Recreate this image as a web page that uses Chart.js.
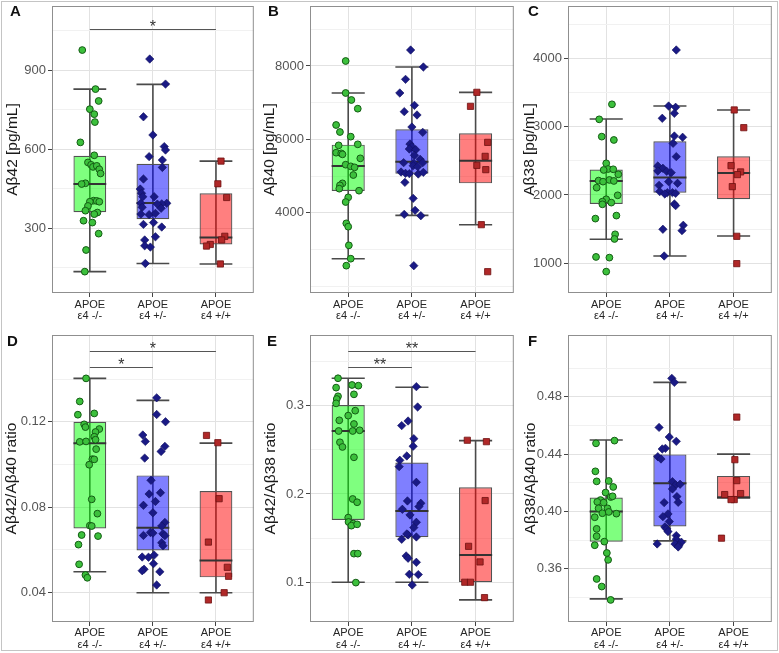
<!DOCTYPE html>
<html><head><meta charset="utf-8">
<script src="https://cdn.jsdelivr.net/npm/chart.js@4.4.1/dist/chart.umd.min.js"></script>
<style>
body{margin:0;background:#fff;}
#wrap{position:relative;width:779px;height:653px;overflow:hidden;background:#fff;}
canvas{position:absolute;}
.lt{position:absolute;font:bold 15px 'Liberation Sans',Arial,sans-serif;line-height:15px;color:#111;}
#frame{position:absolute;left:1px;top:1px;width:777px;height:650px;box-sizing:border-box;border:1px solid #c4c4c4;pointer-events:none;}
</style></head>
<body><div id="wrap">
<canvas id="cA"></canvas><canvas id="cB"></canvas><canvas id="cC"></canvas>
<canvas id="cD"></canvas><canvas id="cE"></canvas><canvas id="cF"></canvas>
<div class="lt" style="left:10px;top:3px">A</div>
<div class="lt" style="left:268px;top:3px">B</div>
<div class="lt" style="left:528px;top:3px">C</div>
<div class="lt" style="left:7px;top:333px">D</div>
<div class="lt" style="left:267px;top:333px">E</div>
<div class="lt" style="left:528px;top:333px">F</div>
<div id="frame"></div>
</div>
<script>
// ---------- categories ----------
const catPrefix = 'APOE';
const categories = ['ε4 -/-', 'ε4 +/-', 'ε4 +/+'];

// ---------- Panel A: Aβ42 [pg/mL] ----------
const A_neg_val = [976,828,783,752,733,703,626,577,550,541,533,537,524,508,471,468,405,404,401,401,385,367,360,354,329,322,280,218,136];
const A_neg_jit = [-0.12,0.09,0.14,0.00,0.07,0.08,-0.15,0.07,-0.03,0.02,0.05,0.11,0.15,0.17,-0.07,-0.13,0.06,0.11,0.15,0.00,-0.03,-0.07,0.12,0.07,-0.10,0.04,0.14,-0.06,-0.08];
const A_het_val = [942,847,723,654,610,597,572,559,531,487,449,433,420,420,395,393,392,395,376,380,354,352,357,322,315,305,268,256,234,229,167];
const A_het_jit = [-0.05,0.20,-0.15,0.00,0.18,0.20,-0.06,0.15,0.15,-0.15,-0.20,-0.18,-0.16,0.02,0.22,0.14,0.07,-0.19,0.13,-0.17,-0.19,-0.06,0.04,0.01,-0.15,0.14,0.04,-0.13,-0.13,-0.04,-0.12];
const A_hom_val = [555,469,417,270,256,239,233,165];
const A_hom_jit = [0.08,0.03,0.17,0.14,0.09,-0.09,-0.15,0.07];
const A_q1 = [361,335,239], A_med = [468,396,265], A_q3 = [575,545,433], A_lo = [136,167,165], A_hi = [828,846,555];
const A_yTicks = [150,300,450,600,750,900,1050];
const A_yLabels = ['','300','','600','','900',''];
const A_sigFrom = [1], A_sigTo = [3], A_sigY = [1055], A_sigText = ['*'];

// ---------- Panel B: Aβ40 [pg/mL] ----------
const B_neg_val = [8136,7264,7073,6836,6391,6200,6073,5836,5864,5636,5618,5591,5482,5309,5264,5236,5027,4800,4745,4655,4600,4418,4291,3709,3618,3109,2745,2555];
const B_neg_jit = [-0.04,-0.04,0.05,0.15,-0.19,-0.13,0.04,-0.15,0.15,-0.19,-0.11,-0.09,0.19,-0.04,0.04,0.10,0.08,-0.09,-0.13,-0.14,0.17,0.00,-0.04,-0.03,0.00,0.01,0.04,-0.03];
const B_het_val = [8436,7973,7636,7264,6927,6755,6664,6336,6191,5873,5800,5736,5718,5564,5455,5364,5345,5364,5282,5255,5109,5073,5064,5055,5100,4827,4391,4064,3955,3918,2555];
const B_het_jit = [-0.02,0.18,-0.10,-0.19,0.04,-0.12,0.08,0.00,0.17,-0.03,0.00,-0.04,0.06,0.04,0.13,-0.13,0.03,0.17,0.02,0.09,-0.17,-0.10,-0.04,0.10,0.18,-0.11,0.02,0.05,-0.12,0.14,0.03];
const B_hom_val = [7282,6900,5918,5536,5291,5173,3673,2391];
const B_hom_jit = [0.02,-0.08,0.19,0.15,0.02,0.16,0.09,0.19];
const B_q1 = [4591,5064,4800], B_med = [5273,5391,5418], B_q3 = [5855,6273,6164], B_lo = [2745,3927,3673], B_hi = [7264,7973,7282];
const B_yTicks = [2000,3000,4000,5000,6000,7000,8000,9000];
const B_yLabels = ['','','4000','','6000','','8000',''];

// ---------- Panel C: Aβ38 [pg/mL] ----------
const C_neg_val = [3327,3107,2854,2805,2463,2380,2366,2376,2302,2210,2220,2205,2195,2107,1995,1937,1902,1888,1863,1698,1654,1424,1356,1093,1083,878];
const C_neg_jit = [0.09,-0.11,-0.07,0.12,0.00,0.03,-0.04,0.11,0.19,-0.12,0.05,0.12,-0.05,-0.15,0.18,0.00,-0.06,0.08,-0.06,0.16,-0.17,0.14,0.13,-0.16,0.05,0.00];
const C_het_val = [4122,3302,3283,3195,3122,2863,2844,2756,2424,2561,2390,2351,2346,2327,2171,2141,2195,2049,2034,2034,2024,2015,1868,1844,1556,1478,1498,1107];
const C_het_jit = [0.10,-0.02,0.09,0.07,-0.12,0.07,0.20,0.05,-0.19,0.10,-0.11,-0.19,-0.05,0.02,0.12,-0.17,-0.02,-0.16,-0.04,0.04,0.09,-0.08,0.07,0.09,0.21,0.19,-0.11,-0.09];
const C_hom_val = [3244,2985,2429,2337,2298,2122,1395,995];
const C_hom_jit = [0.01,0.16,-0.04,0.11,0.06,-0.02,0.05,0.05];
const C_q1 = [1868,2034,1937], C_med = [2205,2254,2322], C_q3 = [2371,2785,2566], C_lo = [1351,1107,1400], C_hi = [3112,3302,3244];
const C_yTicks = [1000,1500,2000,2500,3000,3500,4000,4500];
const C_yLabels = ['1000','','2000','','3000','','4000',''];

// ---------- Panel D: Aβ42/Aβ40 ratio ----------
const D_neg_val = [0.1403,0.1295,0.1239,0.1233,0.1188,0.1175,0.1166,0.1152,0.1130,0.1106,0.1108,0.1116,0.1072,0.1025,0.1024,0.0999,0.0837,0.0770,0.0714,0.0712,0.0670,0.0665,0.0625,0.0533,0.0483,0.0470];
const D_neg_jit = [-0.06,-0.16,0.07,-0.19,-0.09,-0.07,0.15,0.09,0.07,-0.16,-0.06,0.09,0.10,0.04,0.07,-0.01,0.03,0.12,0.00,0.03,-0.13,0.13,-0.18,-0.17,-0.07,-0.04];
const D_het_val = [0.1312,0.1234,0.1200,0.1138,0.1108,0.1085,0.1061,0.1030,0.0926,0.0868,0.0862,0.0827,0.0809,0.0774,0.0729,0.0712,0.0682,0.0679,0.0668,0.0676,0.0667,0.0634,0.0620,0.0567,0.0566,0.0576,0.0536,0.0510,0.0503,0.0498,0.0436];
const D_het_jit = [0.06,0.06,0.20,-0.16,-0.12,0.19,0.13,-0.13,-0.03,0.12,-0.06,0.04,-0.15,0.00,0.19,0.14,-0.04,0.00,-0.15,0.16,0.19,0.14,0.16,-0.17,-0.07,0.02,0.01,-0.14,-0.17,0.11,0.06];
const D_hom_val = [0.1136,0.1102,0.0840,0.0637,0.0519,0.0477,0.0400,0.0366];
const D_hom_jit = [-0.15,0.03,0.05,-0.12,0.18,0.20,0.13,-0.12];
const D_q1 = [0.0701,0.0598,0.0472], D_med = [0.1099,0.0704,0.0551], D_q3 = [0.1200,0.0949,0.0876], D_lo = [0.0498,0.0400,0.0400], D_hi = [0.1403,0.1300,0.1100];
const D_yTicks = [0.04,0.06,0.08,0.10,0.12,0.14];
const D_yLabels = ['0.04','','0.08','','0.12',''];
const D_sigFrom = [1,1], D_sigTo = [2,3], D_sigY = [0.1457,0.1532], D_sigText = ['*','*'];

// ---------- Panel E: Aβ42/Aβ38 ratio ----------
const E_neg_val = [0.331,0.3204,0.3234,0.3226,0.3106,0.3128,0.3075,0.3026,0.2887,0.2943,0.2834,0.2792,0.2713,0.2713,0.2721,0.2585,0.2532,0.2415,0.1943,0.1906,0.1732,0.1683,0.1664,0.1641,0.1656,0.1324,0.1324,0.0996];
const E_neg_jit = [-0.16,-0.19,0.06,0.16,-0.16,0.09,-0.18,-0.19,0.00,0.11,-0.14,0.09,-0.15,0.07,0.18,-0.13,-0.09,0.09,0.07,0.14,0.00,0.005,0.08,0.05,0.14,0.09,0.15,0.12];
const E_het_val = [0.3215,0.2985,0.2774,0.2826,0.2626,0.254,0.243,0.2381,0.2309,0.2132,0.1921,0.1826,0.1894,0.1857,0.1762,0.1679,0.1619,0.1536,0.1547,0.1513,0.1487,0.1298,0.1272,0.1226,0.109,0.1087,0.0969];
const E_het_jit = [0.07,0.09,-0.16,-0.06,0.03,0.02,-0.08,-0.19,-0.20,0.07,-0.07,-0.15,0.14,0.11,-0.03,0.07,0.03,-0.06,-0.08,0.07,-0.16,-0.09,-0.06,0.07,-0.04,0.10,0.005];
const E_hom_val = [0.2608,0.2592,0.1925,0.1407,0.123,0.100,0.100,0.0826];
const E_hom_jit = [-0.13,0.17,0.15,-0.11,0.07,-0.17,-0.08,0.14];
const E_q1 = [0.1706,0.1509,0.100], E_med = [0.2713,0.1807,0.1309], E_q3 = [0.3008,0.2355,0.2075], E_lo = [0.100,0.100,0.080], E_hi = [0.331,0.3208,0.2604];
const E_yTicks = [0.10,0.15,0.20,0.25,0.30,0.35];
const E_yLabels = ['0.1','','0.2','','0.3',''];
const E_sigFrom = [1,1], E_sigTo = [2,3], E_sigY = [0.3442,0.3623], E_sigText = ['**','**'];

// ---------- Panel F: Aβ38/Aβ40 ratio ----------
const F_neg_val = [0.4475,0.4494,0.428,0.421,0.4213,0.4132,0.4171,0.4101,0.4106,0.408,0.4067,0.4062,0.4022,0.4022,0.3988,0.3997,0.3985,0.396,0.3879,0.3828,0.379,0.3765,0.3711,0.3663,0.353,0.3477,0.3384];
const F_neg_jit = [-0.16,0.13,-0.17,-0.15,0.04,-0.01,0.11,0.07,0.10,-0.09,-0.14,-0.04,-0.12,0.02,-0.06,0.04,0.16,-0.18,-0.15,-0.15,-0.03,-0.18,0.01,0.03,-0.15,-0.07,0.07];
const F_het_val = [0.4928,0.49,0.4586,0.4519,0.4489,0.444,0.4436,0.4382,0.4366,0.4208,0.4185,0.419,0.4157,0.4104,0.4064,0.4062,0.3983,0.3964,0.393,0.3892,0.3879,0.386,0.3832,0.3807,0.3786,0.3774,0.3763,0.3774,0.3753];
const F_het_jit = [0.03,0.07,-0.17,-0.01,0.10,-0.07,-0.12,-0.19,-0.14,0.04,0.09,0.16,0.04,0.11,0.13,-0.09,-0.03,-0.11,-0.01,-0.08,-0.05,-0.03,0.10,0.10,0.18,0.08,0.14,-0.20,0.13];
const F_hom_val = [0.4658,0.4361,0.4215,0.4118,0.4125,0.4083,0.4083,0.3814];
const F_hom_jit = [0.05,0.02,0.05,-0.14,0.11,0.01,-0.04,-0.19];
const F_q1 = [0.379,0.3895,0.4097], F_med = [0.400,0.4197,0.4097], F_q3 = [0.4097,0.4398,0.4248], F_lo = [0.3391,0.3795,0.4097], F_hi = [0.4498,0.490,0.440];
const F_yTicks = [0.34,0.36,0.38,0.40,0.42,0.44,0.46,0.48,0.50];
const F_yLabels = ['','0.36','','0.40','','0.44','','0.48',''];

// ---------- styles ----------
const FONT = "'Liberation Sans', Arial, Helvetica, sans-serif";
Chart.defaults.font.family = FONT;
const BOX_FILL = ['rgba(0,255,0,0.5)','rgba(0,0,255,0.5)','rgba(255,0,0,0.5)'];
const PT = [
  {style:'circle', r:3.4, bg:'#3cc03c', bd:'#145c14', bw:1},
  {style:'rectRot', r:4.2, bg:'#1a1a85', bd:'#10105e', bw:0.6},
  {style:'rect', r:4.4, bg:'#b02828', bd:'#6e1010', bw:0.8}
];
const GRID_MAJOR = '#e2e2e2', GRID_MINOR = '#f1f1f1';

function extrasPlugin(st, sig) {
  return {
    id: 'extras',
    beforeDatasetsDraw(chart) {
      const {ctx} = chart, ys = chart.scales.y, meta = chart.getDatasetMeta(0);
      ctx.save();
      ctx.strokeStyle = '#4a4a4a'; ctx.lineWidth = 1.6;
      st.lo.forEach((lo, i) => {
        const bar = meta.data[i]; const x = bar.x, hw = bar.width / 2;
        const y1 = ys.getPixelForValue(lo), y2 = ys.getPixelForValue(st.hi[i]);
        ctx.beginPath();
        ctx.moveTo(x, y1); ctx.lineTo(x, y2);
        ctx.moveTo(x - hw, y1); ctx.lineTo(x + hw, y1);
        ctx.moveTo(x - hw, y2); ctx.lineTo(x + hw, y2);
        ctx.stroke();
      });
      ctx.restore();
    },
    afterDatasetDraw(chart, args) {
      if (args.index !== 0) return;
      const {ctx} = chart, ys = chart.scales.y, meta = chart.getDatasetMeta(0);
      ctx.save(); ctx.strokeStyle = '#333'; ctx.lineWidth = 2;
      st.med.forEach((m, i) => {
        const bar = meta.data[i]; const y = ys.getPixelForValue(m);
        ctx.beginPath(); ctx.moveTo(bar.x - bar.width / 2, y); ctx.lineTo(bar.x + bar.width / 2, y); ctx.stroke();
      });
      ctx.restore();
    },
    afterDatasetsDraw(chart) {
      const {ctx, chartArea: a} = chart, xs = chart.scales.x, ys = chart.scales.y;
      ctx.save();
      ctx.strokeStyle = '#8f8f8f'; ctx.lineWidth = 1;
      ctx.strokeRect(a.left + 0.5, a.top + 0.5, a.right - a.left - 1, a.bottom - a.top - 1);
      if (sig) {
        sig.from.forEach((f, i) => {
          const x1 = xs.getPixelForValue(f), x2 = xs.getPixelForValue(sig.to[i]);
          const y = Math.round(ys.getPixelForValue(sig.y[i])) + 0.5;
          ctx.strokeStyle = '#555'; ctx.lineWidth = 1;
          ctx.beginPath(); ctx.moveTo(x1, y); ctx.lineTo(x2, y); ctx.stroke();
          ctx.fillStyle = '#333'; ctx.font = '16px ' + FONT; ctx.textAlign = 'center'; ctx.textBaseline = 'alphabetic';
          ctx.fillText(sig.text[i], (x1 + x2) / 2, y + 2.5);
        });
      }
      ctx.restore();
    }
  };
}

function panel(id, lay, d) {
  const cv = document.getElementById(id);
  cv.width = lay.w; cv.height = lay.h;
  cv.style.left = lay.x + 'px'; cv.style.top = lay.y + 'px';
  cv.style.width = lay.w + 'px'; cv.style.height = lay.h + 'px';
  const groups = [[d.negV, d.negJ], [d.hetV, d.hetJ], [d.homV, d.homJ]];
  const datasets = [{
    type: 'bar',
    data: d.q1.map((q, i) => ({x: i + 1, y: [q, d.q3[i]]})),
    backgroundColor: BOX_FILL, borderColor: '#525252', borderWidth: 1.2, borderSkipped: false,
    barPercentage: 0.52, categoryPercentage: 1, grouped: false, order: 2
  }];
  groups.forEach((g, gi) => {
    datasets.push({
      type: 'scatter',
      data: g[0].map((v, i) => ({x: gi + 1 + g[1][i], y: v})),
      pointStyle: PT[gi].style, pointRadius: PT[gi].r,
      backgroundColor: PT[gi].bg, borderColor: PT[gi].bd, borderWidth: PT[gi].bw,
      order: 1
    });
  });
  new Chart(cv, {
    type: 'scatter',
    data: {datasets},
    plugins: [extrasPlugin({lo: d.lo, hi: d.hi, med: d.med}, d.sig)],
    options: {
      responsive: false, animation: false, events: [],
      layout: {padding: {left: 0, top: lay.t - lay.y, right: lay.x + lay.w - lay.r, bottom: 0}},
      plugins: {legend: {display: false}, tooltip: {enabled: false}},
      scales: {
        x: {
          type: 'linear', min: 0.4, max: 3.6, offset: false,
          afterBuildTicks: s => { s.ticks = categories.map((c, i) => ({value: i + 1})); },
          afterFit: s => { s.height = lay.y + lay.h - lay.b; s.paddingLeft = 0; s.paddingRight = 0; s.paddingTop = 0; s.paddingBottom = 0; },
          grid: {color: GRID_MAJOR, lineWidth: 1, tickColor: '#444', tickLength: 4, offset: false},
          border: {display: false},
          ticks: {
            autoSkip: false, maxRotation: 0, padding: lay.xpad, color: '#262626',
            font: {size: 11, lineHeight: 1.05},
            callback: (v, i) => [catPrefix, categories[i]]
          }
        },
        y: {
          type: 'linear', min: d.yMin, max: d.yMax,
          afterBuildTicks: s => { s.ticks = d.yTicks.map(v => ({value: v})); },
          afterFit: s => { s.width = lay.l - lay.x; s.paddingLeft = 0; s.paddingRight = 0; s.paddingTop = 0; s.paddingBottom = 0; },
          grid: {
            color: c => d.yLabels[c.index] ? GRID_MAJOR : GRID_MINOR,
            tickColor: c => d.yLabels[c.index] ? '#444' : 'rgba(0,0,0,0)',
            lineWidth: 1, tickLength: 4
          },
          border: {display: false},
          ticks: {padding: 2, color: '#555', font: {size: 13}, callback: (v, i) => d.yLabels[i]},
          title: {display: true, text: d.title, color: '#1a1a1a', font: {size: 15.5}, padding: {top: lay.tpad, bottom: 0}}
        }
      }
    }
  });
}

panel('cA', {x:0, y:0, w:259, h:325, l:52, t:6, r:258, b:293, xpad:2, tpad:3.5}, {
  negV:A_neg_val, negJ:A_neg_jit, hetV:A_het_val, hetJ:A_het_jit, homV:A_hom_val, homJ:A_hom_jit,
  q1:A_q1, med:A_med, q3:A_q3, lo:A_lo, hi:A_hi, yMin:55, yMax:1143, yTicks:A_yTicks, yLabels:A_yLabels,
  title:'Aβ42 [pg/mL]', sig:{from:A_sigFrom, to:A_sigTo, y:A_sigY, text:A_sigText}});
panel('cB', {x:259, y:0, w:260, h:325, l:310, t:6, r:518, b:293, xpad:2, tpad:1}, {
  negV:B_neg_val, negJ:B_neg_jit, hetV:B_het_val, hetJ:B_het_jit, homV:B_hom_val, homJ:B_hom_jit,
  q1:B_q1, med:B_med, q3:B_q3, lo:B_lo, hi:B_hi, yMin:1810, yMax:9636, yTicks:B_yTicks, yLabels:B_yLabels,
  title:'Aβ40 [pg/mL]', sig:null});
panel('cC', {x:519, y:0, w:258, h:325, l:568, t:6, r:775, b:293, xpad:2, tpad:1.5}, {
  negV:C_neg_val, negJ:C_neg_jit, hetV:C_het_val, hetJ:C_het_jit, homV:C_hom_val, homJ:C_hom_jit,
  q1:C_q1, med:C_med, q3:C_q3, lo:C_lo, hi:C_hi, yMin:565, yMax:4766, yTicks:C_yTicks, yLabels:C_yLabels,
  title:'Aβ38 [pg/mL]', sig:null});
panel('cD', {x:0, y:325, w:259, h:328, l:52, t:335, r:258, b:622, xpad:1.5, tpad:2.5}, {
  negV:D_neg_val, negJ:D_neg_jit, hetV:D_het_val, hetJ:D_het_jit, homV:D_hom_val, homJ:D_hom_jit,
  q1:D_q1, med:D_med, q3:D_q3, lo:D_lo, hi:D_hi, yMin:0.0263, yMax:0.1606, yTicks:D_yTicks, yLabels:D_yLabels,
  title:'Aβ42/Aβ40 ratio', sig:{from:D_sigFrom, to:D_sigTo, y:D_sigY, text:D_sigText}});
panel('cE', {x:259, y:325, w:260, h:328, l:310, t:335, r:518, b:622, xpad:1.5, tpad:2}, {
  negV:E_neg_val, negJ:E_neg_jit, hetV:E_het_val, hetJ:E_het_jit, homV:E_hom_val, homJ:E_hom_jit,
  q1:E_q1, med:E_med, q3:E_q3, lo:E_lo, hi:E_hi, yMin:0.055, yMax:0.380, yTicks:E_yTicks, yLabels:E_yLabels,
  title:'Aβ42/Aβ38 ratio', sig:{from:E_sigFrom, to:E_sigTo, y:E_sigY, text:E_sigText}});
panel('cF', {x:519, y:325, w:258, h:328, l:568, t:335, r:775, b:622, xpad:1.5, tpad:2}, {
  negV:F_neg_val, negJ:F_neg_jit, hetV:F_het_val, hetJ:F_het_jit, homV:F_hom_val, homJ:F_hom_jit,
  q1:F_q1, med:F_med, q3:F_q3, lo:F_lo, hi:F_hi, yMin:0.323, yMax:0.523, yTicks:F_yTicks, yLabels:F_yLabels,
  title:'Aβ38/Aβ40 ratio', sig:null});
</script>
</body></html>
